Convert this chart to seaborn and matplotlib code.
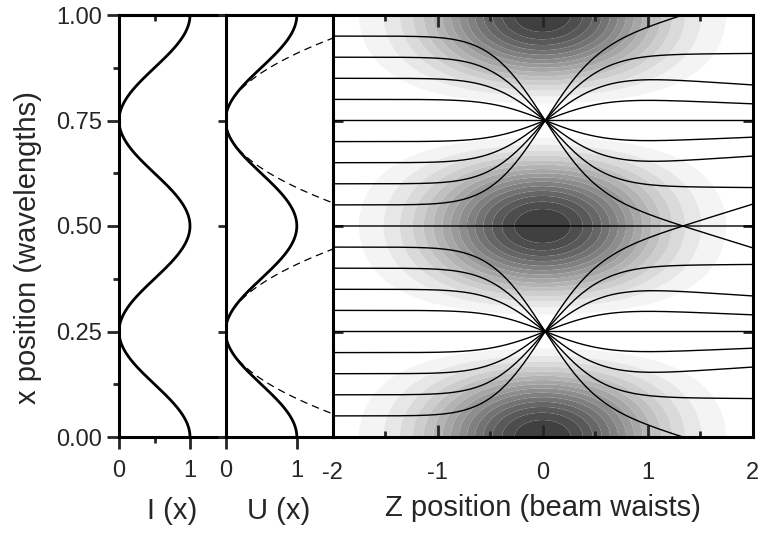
import numpy as np
import pandas as pd
import matplotlib
matplotlib.use("Agg")
import matplotlib.pyplot as plt
import seaborn as sns

# ---------------- data ----------------
x_ticks = [0.00, 0.25, 0.50, 0.75, 1.00]
x_tick_labels = ["0.00", "0.25", "0.50", "0.75", "1.00"]
x_minor_ticks = [0.125, 0.375, 0.625, 0.875]
profile_ticks = [0, 1]
profile_tick_labels = ["0", "1"]
z_ticks = [-2, -1, 0, 1, 2]
z_tick_labels = ["-2", "-1", "0", "1", "2"]
z_minor_ticks = [-1.5, -0.5, 0.5, 1.5]
# atom start positions (x, in wavelengths) at the left edge of the right panel
start_positions = [0.05, 0.10, 0.15, 0.20, 0.25, 0.30, 0.35, 0.40, 0.45, 0.50,
                   0.55, 0.60, 0.65, 0.70, 0.75, 0.80, 0.85, 0.90, 0.95]
potential_minima = [0.25, 0.75]      # nodes of the standing wave
wave_number = 2 * np.pi              # standing wave: I(x) = cos^2(k x), x in wavelengths
beam_width = 1.05                    # envelope exp(-(z/w)^2) of the shaded intensity
focus_z = 0.024                      # focal point
intensity_levels = [k / 16 for k in range(1, 17)]
harmonic_limit = 0.25                # half-range of the harmonic (dashed) approximation
# trajectory shapes (offsets from the focusing node)
ref_start_offsets = [0.05, 0.10, 0.15, 0.20]
ref_end_offsets = [0.047, 0.098, 0.171, 0.295]          # at z = 2
ref_pre_z = [-0.83, -0.55, -0.21, -0.055]              # outermost ray, before focus
ref_pre_fraction = [0.99, 0.90, 0.585, 0.23]
ref_post_z = [0.61, 0.93, 1.25, 1.42]                  # outermost ray, after focus
ref_post_offsets = [0.129, 0.184, 0.236, 0.256]

# ---------------- style ----------------
sns.set_theme(style="ticks")
plt.rcParams["font.family"] = ["Liberation Sans", "DejaVu Sans"]
plt.rcParams["axes.linewidth"] = 2.2
plt.rcParams["axes.edgecolor"] = "black"

fig = plt.figure(figsize=(7.63, 5.34), dpi=100)
W, H = 763.0, 534.0
top_px, bot_px = 15.0, 437.0
bottom = (H - bot_px) / H
height = (bot_px - top_px) / H
p1_left, p2_left, p3_left, p3_right = 119.0, 225.5, 332.5, 752.5
ax1 = fig.add_axes([p1_left / W, bottom, (p2_left - p1_left) / W, height])
ax2 = fig.add_axes([p2_left / W, bottom, (p3_left - p2_left) / W, height])
ax3 = fig.add_axes([p3_left / W, bottom, (p3_right - p3_left) / W, height])

# ---------------- profiles ----------------
xg = np.linspace(0, 1, 801)
intensity = np.cos(wave_number * xg) ** 2
prof = pd.DataFrame({"x": xg, "I": intensity})

sns.lineplot(data=prof, x="I", y="x", sort=False, estimator=None, color="black",
             lw=2.0, ax=ax1)
sns.lineplot(data=prof, x="I", y="x", sort=False, estimator=None, color="black",
             lw=2.0, ax=ax2, zorder=3)
for xm in potential_minima:
    d = np.linspace(-harmonic_limit, harmonic_limit, 401)
    harm = (wave_number * d) ** 2
    ax2.plot(harm, xm + d, color="black", lw=0.9, dashes=(6, 4), zorder=2)

# ---------------- intensity map ----------------
zg = np.linspace(-2, 2, 501)
Zm, Xm = np.meshgrid(zg, xg)
field = np.cos(wave_number * Xm) ** 2 * np.exp(-(Zm / beam_width) ** 2)
nb = len(intensity_levels) - 1
grays = [str(0.955 - i * (0.955 - 0.25) / (nb - 1)) for i in range(nb)]
lv = list(intensity_levels)
lv[-1] = 1.001
ax3.contourf(Zm, Xm, field, levels=lv, colors=grays, antialiased=True, zorder=0)

# ---------------- trajectories (model fitted to the picture) ----------------
zs = np.linspace(-2, 2, 1601)
dz = zs[1] - zs[0]
k2 = 2 * wave_number ** 2


def make_acc(K, wpre, wpost, c, a, p):
    def acc(d, z):
        if z < focus_z:
            return -K * k2 * d * np.exp(-(z / wpre) ** 2)
        return -c * K * k2 * d / (1 + np.abs(d / a) ** p) * np.exp(-(z / wpost) ** 2)
    return acc


def integrate(d0, acc, record=()):
    d = np.array(d0, dtype=float)
    v = np.zeros_like(d)
    path = [d.copy()]
    for z in zs[:-1]:
        k1x, k1v = v, acc(d, z)
        k2x, k2v = v + 0.5 * dz * k1v, acc(d + 0.5 * dz * k1x, z + 0.5 * dz)
        k3x, k3v = v + 0.5 * dz * k2v, acc(d + 0.5 * dz * k2x, z + 0.5 * dz)
        k4x, k4v = v + dz * k3v, acc(d + dz * k3x, z + dz)
        d = d + dz / 6 * (k1x + 2 * k2x + 2 * k3x + k4x)
        v = v + dz / 6 * (k1v + 2 * k2v + 2 * k3v + k4v)
        path.append(d.copy())
    return np.array(path)


def shoot_K(wpre):
    def cross(K):
        x, v = -1.0, 0.0
        for z in zs[:-1]:
            v += -K * k2 * x * np.exp(-(z / wpre) ** 2) * dz
            x += v * dz
            if x > 0:
                return z
        return 10.0
    lo, hi = 0.001, 20.0
    for _ in range(32):
        mid = 0.5 * (lo + hi)
        if cross(mid) > focus_z:
            lo = mid
        else:
            hi = mid
    return 0.5 * (lo + hi)


idx = lambda zz: int(np.argmin(np.abs(zs - zz)))
pre_idx = [idx(z) for z in ref_pre_z]
post_idx = [idx(z) for z in ref_post_z]
t_end = np.array(ref_end_offsets)
t_post = np.array(ref_post_offsets)

best = None
cs = np.geomspace(0.08, 2.5, 16)
As = np.array([0.08, 0.1, 0.12, 0.14, 0.16, 0.2, 0.25, 0.35])
Ps = np.array([2.0, 4.0, 6.0])
Cg, Ag, Pg = [g.ravel()[:, None] for g in np.meshgrid(cs, As, Ps, indexing="ij")]
for wpre in [0.45, 0.55, 0.65]:
    K = shoot_K(wpre)
    pre_path = integrate([-1.0], make_acc(K, wpre, 1.0, 1.0, 1.0, 2.0))[:, 0]
    err_pre = np.sum(((-pre_path[pre_idx]) - np.array(ref_pre_fraction)) ** 2) * 0.04
    for wpost in [0.75, 1.05, 1.35]:
        d0 = np.tile(-np.array(ref_start_offsets), (Cg.shape[0], 1))
        path = integrate(d0, make_acc(K, wpre, wpost, Cg, Ag, Pg))
        err = (np.sum((path[-1] - t_end) ** 2, axis=1)
               + np.sum((path[post_idx, :, 3].T - t_post) ** 2, axis=1) + err_pre)
        i = int(np.argmin(err))
        if best is None or err[i] < best[0]:
            best = (err[i], K, wpre, wpost, Cg[i, 0], Ag[i, 0], Pg[i, 0])

_, K, wpre, wpost, cbest, abest, pbest = best
acc_best = make_acc(K, wpre, wpost, cbest, abest, pbest)

x0 = np.array(start_positions)
minima = np.array(potential_minima)
node = minima[np.argmin(np.abs(x0[:, None] - minima[None, :]), axis=1)]
at_max = np.isclose(np.abs(x0 - node), 0.25)
d_start = np.where(at_max, 0.0, x0 - node)
base = np.where(at_max, x0, node)
paths = integrate(d_start, acc_best) + base[None, :]

traj = pd.DataFrame({
    "z": np.tile(zs, len(start_positions)),
    "x": paths.T.ravel(),
    "start": np.repeat(np.arange(len(start_positions)), len(zs)),
})
sns.lineplot(data=traj, x="z", y="x", units="start", estimator=None, sort=False,
             color="black", lw=1.0, ax=ax3, legend=False, zorder=2)

# ---------------- axes cosmetics ----------------
tick_fs = 17
label_fs = 21
for ax in (ax1, ax2):
    ax.set_xlim(0, 1.5)
    ax.set_ylim(0, 1)
    ax.set_xticks(profile_ticks)
    ax.set_xticklabels(profile_tick_labels)
    ax.tick_params(axis="x", which="major", direction="out", length=8.5, width=2,
                   labelsize=tick_fs, pad=8)
ax1.set_xticks([0.5], minor=True)
ax1.tick_params(axis="x", which="minor", direction="out", length=4, width=2)
sec = ax1.secondary_xaxis("top")
sec.set_xticks([0.5])
sec.tick_params(direction="in", length=4, width=2, labeltop=False)
sec.spines["top"].set_linewidth(2.2)

ax1.set_yticks(x_ticks)
ax1.set_yticklabels(x_tick_labels)
ax1.set_yticks(x_minor_ticks, minor=True)
ax1.tick_params(axis="y", which="major", direction="out", length=8.5, width=2,
                labelsize=tick_fs, pad=4)
ax1.tick_params(axis="y", which="minor", direction="out", length=4, width=2)
ax1.set_ylabel("x position (wavelengths)", fontsize=label_fs)
ax1.yaxis.set_label_coords(-0.72, 0.45)

ax2.set_yticks(x_ticks)
ax2.tick_params(axis="y", which="major", direction="out", length=5.5, width=2,
                labelleft=False)
ax2.set_ylabel("")

ax1.set_xlabel("I (x)", fontsize=label_fs, labelpad=11)
ax2.set_xlabel("U (x)", fontsize=label_fs, labelpad=11)

ax3.set_xlim(-2, 2)
ax3.set_ylim(0, 1)
ax3.set_xticks(z_ticks)
ax3.set_xticklabels(z_tick_labels)
ax3.set_xticks(z_minor_ticks, minor=True)
ax3.set_yticks([0.25, 0.50, 0.75])
ax3.tick_params(axis="x", which="major", direction="in", length=8.5, width=2,
                top=True, labelsize=tick_fs, pad=18)
ax3.tick_params(axis="x", which="minor", direction="in", length=4.5, width=2, top=True)
ax3.tick_params(axis="y", which="major", direction="in", length=7, width=2,
                right=True, labelleft=False)
ax3.set_ylabel("")
ax3.set_xlabel("Z position (beam waists)", fontsize=label_fs, labelpad=7)
for ax in (ax1, ax2, ax3):
    ax.set_facecolor("white")
    for s in ax.spines.values():
        s.set_linewidth(2.2)
ax1.spines["right"].set_visible(False)
ax2.spines["right"].set_visible(False)

fig.savefig("out.png", dpi=100)
